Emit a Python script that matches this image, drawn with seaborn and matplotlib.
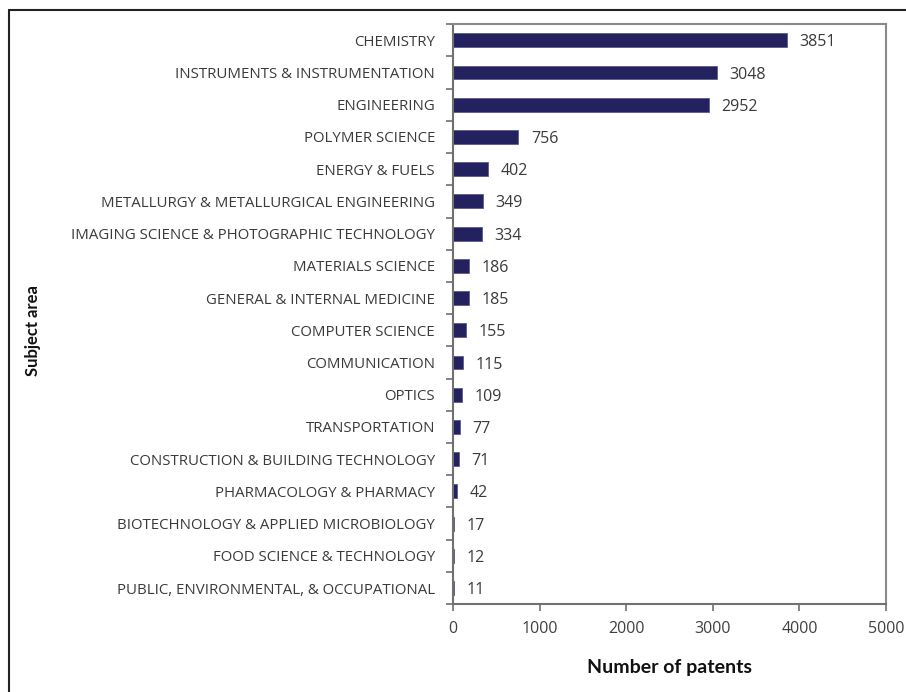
import matplotlib
matplotlib.use("Agg")
import matplotlib.pyplot as plt
import seaborn as sns
import numpy as np
import pandas as pd
from matplotlib.lines import Line2D
from matplotlib.ticker import FixedLocator

categories = [
    "CHEMISTRY",
    "INSTRUMENTS & INSTRUMENTATION",
    "ENGINEERING",
    "POLYMER SCIENCE",
    "ENERGY & FUELS",
    "METALLURGY & METALLURGICAL ENGINEERING",
    "IMAGING SCIENCE & PHOTOGRAPHIC TECHNOLOGY",
    "MATERIALS SCIENCE",
    "GENERAL & INTERNAL MEDICINE",
    "COMPUTER SCIENCE",
    "COMMUNICATION",
    "OPTICS",
    "TRANSPORTATION",
    "CONSTRUCTION & BUILDING TECHNOLOGY",
    "PHARMACOLOGY & PHARMACY",
    "BIOTECHNOLOGY & APPLIED MICROBIOLOGY",
    "FOOD SCIENCE & TECHNOLOGY",
    "PUBLIC, ENVIRONMENTAL, & OCCUPATIONAL",
]
patents = [3851, 3048, 2952, 756, 402, 349, 334, 186, 185, 155, 115, 109, 77, 71, 42, 17, 12, 11]
x_ticks = [0, 1000, 2000, 3000, 4000, 5000]

df = pd.DataFrame({"Subject area": categories, "Number of patents": patents})

sns.set_theme(style="white")
plt.rcParams["font.family"] = ["Open Sans", "DejaVu Sans"]

fig = plt.figure(figsize=(9.06, 6.92), dpi=100)
ax = fig.add_axes([0.5, 0.127, 0.478, 0.838])

sns.barplot(data=df, x="Number of patents", y="Subject area", orient="h",
            color="#23225f", saturation=1, width=0.43, ax=ax,
            edgecolor="#5a5a90", linewidth=0.6)

ax.set_xlim(0, 5000)
ax.set_ylim(len(categories) - 0.5, -0.5)
ax.set_xticks(x_ticks)
ax.set_xticklabels([str(t) for t in x_ticks], fontsize=11.5, color="#404040")

ax.tick_params(axis="y", which="major", length=0, pad=13, labelsize=10.8, labelcolor="#3a3a3a")
ax.yaxis.set_minor_locator(FixedLocator(np.arange(-0.5, len(categories), 1.0)))
ax.tick_params(axis="y", which="minor", left=True, length=5, width=1.2, color="#707070", direction="out")
ax.tick_params(axis="x", which="major", bottom=True, length=5, width=1.2, color="#707070",
               direction="out", pad=7)

for s in ax.spines.values():
    s.set_visible(True)
    s.set_color("#8a8a8a")
    s.set_linewidth(1.5)
ax.spines["left"].set_color("#707070")
ax.spines["bottom"].set_color("#707070")

for i, v in enumerate(patents):
    ax.annotate(str(v), xy=(v, i), xytext=(9, -1.5), textcoords="offset points",
                va="center", ha="left", fontsize=11.5, color="#3a3a3a")

ax.set_xlabel("")
ax.set_ylabel("")
fig.text(0.739, 1 - 668 / 692, "Number of patents", ha="center", va="center",
         fontsize=14, color="#111111", family=["Lato", "DejaVu Sans"], fontweight="bold")
fig.text(33 / 906, 1 - 331 / 692, "Subject area", ha="center", va="center", rotation=90,
         fontsize=12, color="#111111", family=["Lato", "DejaVu Sans"], fontweight="bold")

# outer frame lines (top and left)
fig.add_artist(Line2D([9 / 906, 1.0], [1 - 10 / 692, 1 - 10 / 692], transform=fig.transFigure,
                      color="#222222", linewidth=1.5))
fig.add_artist(Line2D([9 / 906, 9 / 906], [0, 1 - 10 / 692], transform=fig.transFigure,
                      color="#222222", linewidth=1.5))

fig.savefig("out.png", dpi=100)
